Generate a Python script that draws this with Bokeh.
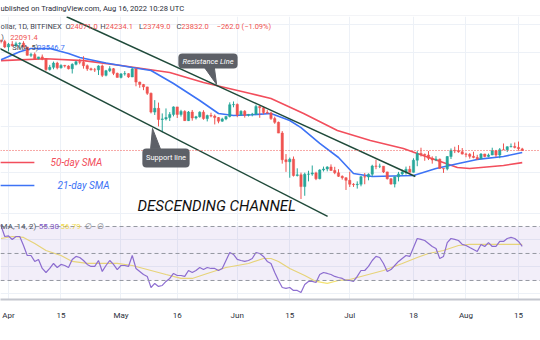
from bokeh.plotting import figure
from bokeh.layouts import column
from bokeh.models import Range1d, FixedTicker, Label, BoxAnnotation, Span, ColumnDataSource
from bokeh.embed import file_html
from bokeh.resources import INLINE

# ---------------- data (day 0 = 1 Apr 2022, first candle = 29 Mar 2022) ----------------
FIRST_DAY = -3

open_ = [47130, 47460, 47070,
         45530, 46300, 45860, 46440, 46600, 45520, 43190, 43450, 42290, 42780,
         42180, 39540, 40090, 41150, 39950, 40560, 40400, 39720, 40830, 41500,
         41370, 40490, 39710, 39470, 39450, 40430, 38120, 39240, 39740, 38600,
         37640, 38470, 38530, 37750, 39690, 36550, 36010, 35470, 34060, 30300,
         31020, 28940, 29030, 29280, 29860, 31300, 29860, 30420, 28720, 30310,
         29200, 29430, 30290, 29090, 29650, 29560, 29270, 28630, 29030, 29470, 31720,
         31790, 29800, 30450, 29700, 29860, 29900, 31370, 31130, 30200, 30110,
         29090, 28420, 26570, 22490, 22210, 22570, 20380, 20470, 19020, 20550,
         20570, 20720, 19980, 21100, 21230, 21500, 21030, 20730, 20280, 20100,
         19780, 19300, 19250, 19300, 20230, 20190, 20550, 21630, 21590, 21600,
         20850, 19970, 19320, 20210, 20580, 20830, 21190, 20790, 22430, 23390,
         23230, 23160, 22690, 22460, 22580, 21310, 21250, 22950, 23850, 23780, 23640,
         23300, 23270, 22980, 22820, 22620, 23310, 22960, 23170, 23810, 23160,
         23950, 23940, 24400, 24440, 24300, 24071.0]

high = [48190, 47700, 47600,
        46700, 47200, 47050, 46900, 47180, 45520, 43900, 43970, 42800, 43420,
        42420, 40700, 41550, 41500, 40850, 40700, 40600, 41100, 41750, 42200,
        42950, 40800, 39990, 39930, 40600, 40780, 39450, 40370, 39920, 38780,
        38660, 39150, 38630, 40000, 39790, 36650, 36130, 35500, 34250, 32650,
        32150, 30050, 31000, 30300, 31400, 31300, 30730, 30650, 30500, 30700,
        29600, 30450, 30650, 29820, 30180, 29850, 29380, 29250, 29550, 32200, 32380,
        31970, 30650, 30680, 29950, 30150, 31750, 31550, 31330, 30670, 30350,
        29450, 28550, 26900, 23300, 22800, 22950, 21320, 20760, 20750, 21000,
        21700, 20870, 21200, 21550, 21600, 21850, 21520, 21200, 20400, 20150,
        20870, 19430, 19650, 20330, 20700, 20650, 21800, 22500, 21950, 21600,
        20870, 20050, 20250, 20850, 21150, 21550, 21650, 22700, 23750, 24250,
        23400, 23750, 22980, 23000, 22650, 21320, 23000, 24150, 24400, 24650, 24200,
        23500, 23450, 23650, 23200, 23450, 23350, 23380, 24250, 23920, 24200,
        24900, 24450, 24900, 25050, 25200, 24234.1]

low = [46950, 46550, 45200,
       44250, 45650, 45560, 45150, 45400, 43130, 42730, 42130, 42130, 41900,
       39200, 39270, 39600, 39570, 39780, 40030, 39560, 38560, 40570, 40850,
       39760, 39200, 39300, 38930, 38200, 37720, 37880, 38900, 38180, 37620,
       37400, 38050, 37520, 37700, 35600, 35270, 34750, 33730, 30050, 29760,
       27700, 26700, 28760, 28650, 29500, 29200, 29460, 28670, 28650, 28720,
       28930, 29260, 28880, 28580, 29330, 28050, 28250, 28520, 28800, 29300, 31220,
       29350, 29600, 29270, 29480, 29500, 29870, 29240, 29880, 29960, 28860,
       28150, 26570, 21950, 20850, 20100, 20250, 20260, 17600, 17960, 19650,
       20350, 19800, 19900, 20900, 20920, 21000, 20550, 20200, 19860, 18620,
       18970, 18980, 18780, 19050, 19300, 19780, 20250, 21200, 21350, 20700,
       19880, 19250, 18920, 19650, 20400, 20500, 20790, 20760, 21600, 22950,
       22350, 22450, 21950, 22300, 21300, 20720, 21050, 22600, 23450, 23500, 23250,
       22850, 22650, 22700, 22450, 22600, 22850, 22850, 23150, 22880, 22700,
       23900, 23600, 24300, 24150, 23800, 23749.0]

close_ = [47460, 47070, 45530,
          46300, 45860, 46440, 46600, 45520, 43190, 43450, 42290, 42780, 42180,
          39540, 40090, 41150, 39950, 40560, 40400, 39720, 40830, 41500, 41370,
          40490, 39710, 39470, 39450, 40430, 38120, 39240, 39740, 38600, 37640,
          38470, 38530, 37750, 39690, 36550, 36010, 35470, 34060, 30300, 31020,
          28940, 29030, 29280, 29860, 31300, 29860, 30420, 28720, 30310, 29200,
          29430, 30290, 29090, 29650, 29560, 29270, 28630, 29030, 29470, 31720, 31790,
          29800, 30450, 29700, 29860, 29900, 31370, 31130, 30200, 30110, 29090,
          28420, 26570, 22490, 22210, 22570, 20380, 20470, 19020, 20550, 20570,
          20720, 19980, 21100, 21230, 21500, 21030, 20730, 20280, 20100, 19780,
          19300, 19250, 19300, 20230, 20190, 20550, 21630, 21590, 21600, 20850,
          19970, 19320, 20210, 20580, 20830, 21190, 20790, 22430, 23390, 23230,
          23160, 22690, 22460, 22580, 21310, 21250, 22950, 23850, 23780, 23640, 23300,
          23270, 22980, 22820, 22620, 23310, 22960, 23170, 23810, 23160, 23950,
          23940, 24400, 24440, 24300, 24100, 23832.0]

rsi = [72.0, 70.7, 62.6,
       63.0, 60.4, 62.6, 62.6, 55.9, 48.5, 48.5, 44.1, 45.6, 38.9,
       35.9, 38.9, 42.6, 39.6, 41.9, 41.1, 39.6, 45.6, 47.8, 47.0,
       44.8, 41.9, 40.4, 40.4, 44.8, 36.7, 41.1, 44.8, 41.9, 38.1,
       41.1, 41.1, 40.4, 48.5, 38.9, 36.7, 34.4, 33.0, 24.8, 27.8,
       25.6, 26.3, 29.3, 31.5, 35.2, 33.7, 33.7, 33.0, 37.4, 35.9,
       37.4, 39.6, 38.1, 39.6, 38.9, 38.9, 37.4, 38.9, 44.8, 50.7, 49.3,
       45.6, 44.8, 44.1, 44.8, 46.3, 50.7, 50.0, 47.8, 44.1, 42.6,
       35.9, 30.0, 24.8, 24.1, 24.8, 22.6, 22.6, 21.1, 27.0, 29.3,
       29.3, 28.5, 34.4, 35.9, 35.2, 34.4, 33.0, 32.2, 31.5, 30.0,
       30.0, 29.3, 33.0, 37.4, 37.4, 40.4, 44.8, 47.8, 47.0, 42.6,
       36.7, 38.1, 41.1, 44.1, 46.3, 48.5, 47.8, 54.4, 61.1, 60.4,
       59.6, 57.4, 55.2, 53.7, 46.3, 47.8, 58.1, 61.1, 60.4, 59.6, 56.7,
       55.9, 54.4, 53.0, 51.5, 56.7, 55.2, 58.1, 55.2, 55.2, 58.9,
       58.9, 61.1, 61.9, 61.1, 58.9, 55.3]

rsi_ma_days = [-2, 1, 4, 7, 10, 14, 17, 21, 29, 33, 38, 42, 46, 49, 53, 58, 64, 68, 70, 72,
               75, 79, 82, 85, 88, 91, 95, 100, 105, 109, 112, 116, 120, 123, 128, 132, 137]
rsi_ma = [61.1, 62.6, 61.9, 57.4, 52.2, 48.5, 44.1, 42.6, 42.6, 41.1, 37.4, 34.4, 31.5, 31.5,
          35.2, 39.6, 42.6, 46.3, 46.3, 44.1, 38.9, 33.7, 29.3, 27.8, 30.0, 30.7, 33.7, 37.4,
          42.6, 47.0, 50.0, 52.2, 55.9, 56.7, 56.7, 56.7, 56.79]

sma21_days = [-2, 3, 6, 11, 16, 19, 26, 33, 38, 44, 51, 56, 60, 65, 70, 75, 78, 83, 88, 92,
              97, 108, 114, 120, 125, 132, 137]
sma21 = [42000, 44200, 45100, 45100, 43700, 42600, 41200, 40030, 39290, 36220, 32580, 30030,
         29660, 29800, 30030, 28750, 27500, 24900, 22810, 20640, 20250, 20380, 21300, 21980,
         22540, 22960, 23546.7]

sma50_days = [-2, 10, 20, 30, 43, 52, 64.5, 70, 78.7, 87.7, 96.5, 105.3, 109, 114.4, 119.7,
              123, 132, 137]
sma50 = [41800, 42300, 41800, 40540, 38800, 36460, 34040, 32980, 30030, 27000, 25370, 24130,
         23390, 22390, 21430, 21300, 21700, 22091.4]

tick_days = [0, 14, 30, 45, 61, 75, 91, 108, 122, 136]
tick_labels = ["Apr", "15", "May", "16", "Jun", "15", "Jul", "18", "Aug", "15"]

# drawings (date index, price)
resistance_days = [15.5, 108.5]
resistance_prices = [55000, 20260]
support_days = [-4, 85.1]
support_prices = [45990, 15780]

res_box = dict(left=45.3, right=61.1, bottom=39790, top=43700)
res_tail_days = [52.3, 54.9, 55.5]
res_tail_prices = [40000, 40000, 36000]
sup_box = dict(left=35.7, right=48.3, bottom=21430, top=24130)
sup_tail_days = [37.9, 40.5, 38.4]
sup_tail_prices = [24100, 24100, 27350]

key50_days = [-2.2, 6.9]
key50_price = 22110
key21_days = [-2.2, 6.9]
key21_price = 19150

# ---------------- style ----------------
UP = "#26a69a"
DOWN = "#ef5350"
GRID = "#edf1f7"
FONT = "Roboto"
TXT = "#2a2e39"


def lab(fig, x, y, text, color, size="7.5px"):
    fig.add_layout(Label(x=x, y=y, text=text, text_color=color, text_font=FONT,
                         text_font_size=size, text_baseline="middle"))


# ---------------- header strip ----------------
h = figure(width=540, height=16, x_range=Range1d(0, 540), y_range=Range1d(0, 16),
           toolbar_location=None, output_backend="svg",
           min_border_top=0, min_border_left=0, min_border_right=0, min_border_bottom=0)
h.xaxis.visible = False
h.yaxis.visible = False
h.grid.visible = False
h.outline_line_color = None
h.add_layout(Span(location=0.5, dimension="width", line_color="#e6e9ef", line_width=1))
lab(h, 0, 8.5, "ublished on TradingView.com, Aug 16, 2022 10:28 UTC", TXT, "7.6px")

# ---------------- price panel ----------------
x_range = Range1d(-2.133, 141.87)

p = figure(width=540, height=205, x_range=x_range, y_range=Range1d(15290, 55070),
           y_axis_type="log", toolbar_location=None, output_backend="svg",
           min_border_top=0, min_border_left=0, min_border_right=0, min_border_bottom=0)
p.xaxis.visible = False
p.yaxis.visible = False
p.outline_line_color = None
p.background_fill_color = "white"
p.border_fill_color = "white"
p.xgrid.ticker = FixedTicker(ticks=tick_days)
p.xgrid.grid_line_color = GRID
p.ygrid.ticker = FixedTicker(ticks=[16075, 20770, 27690, 36010, 43980, 52420])
p.ygrid.grid_line_color = GRID

days = list(range(FIRST_DAY, FIRST_DAY + len(close_)))
src = ColumnDataSource(dict(
    x=days, o=open_, h=high, l=low, c=close_,
    top=[max(a, b) for a, b in zip(open_, close_)],
    bottom=[min(a, b) for a, b in zip(open_, close_)],
    color=[UP if c >= o else DOWN for o, c in zip(open_, close_)],
))

p.add_layout(Span(location=close_[-1], dimension="width", line_color=DOWN,
                  line_dash="1 2", line_width=1))

p.line(sma50_days, sma50, line_color="#f24e5c", line_width=1.6)
p.line(sma21_days, sma21, line_color="#3d73f5", line_width=1.6)

p.segment("x", "l", "x", "h", source=src, line_color="color", line_width=1)
p.vbar(x="x", width=0.62, top="top", bottom="bottom", source=src,
       fill_color="color", line_color="color", line_width=0.5)

p.line(resistance_days, resistance_prices, line_color="#1f4a3a", line_width=1.5)
p.line(support_days, support_prices, line_color="#1f4a3a", line_width=1.5)

# callouts
BOXC = "#5d6067"
p.add_layout(BoxAnnotation(fill_color=BOXC, fill_alpha=1, line_color=None, border_radius=4,
                           **res_box))
p.patch(res_tail_days, res_tail_prices, fill_color=BOXC, line_color=BOXC)
p.add_layout(BoxAnnotation(fill_color=BOXC, fill_alpha=1, line_color=None, border_radius=4,
                           **sup_box))
p.patch(sup_tail_days, sup_tail_prices, fill_color=BOXC, line_color=BOXC)
p.add_layout(Label(x=53.2, y=41675, text="Resistance Line", text_color="white",
                   text_font=FONT, text_font_size="7.5px", text_font_style="italic",
                   text_align="center", text_baseline="middle"))
p.add_layout(Label(x=42.0, y=22740, text="Support line", text_color="white",
                   text_font=FONT, text_font_size="7.5px",
                   text_align="center", text_baseline="middle"))

# SMA keys
p.line(key50_days, [key50_price] * 2, line_color="#f24e5c", line_width=1.6)
p.line(key21_days, [key21_price] * 2, line_color="#3d73f5", line_width=1.6)
p.add_layout(Label(x=11.2, y=key50_price, text="50-day SMA", text_color="#f24e5c",
                   text_font=FONT, text_font_size="10px", text_font_style="italic",
                   text_baseline="middle"))
p.add_layout(Label(x=13.1, y=key21_price, text="21-day SMA", text_color="#3d73f5",
                   text_font=FONT, text_font_size="10px", text_font_style="italic",
                   text_baseline="middle"))
p.add_layout(Label(x=34.4, y=16890, text="DESCENDING CHANNEL", text_color="#111111",
                   text_font=FONT, text_font_size="15px", text_font_style="italic",
                   text_baseline="middle"))

# legends
R1 = 51730
lab(p, -2.1, R1, "ollar, 1D, BITFINEX", "#434651")
for letter, lx, val, vx in [("O", 15.2, "24071.0", 16.5), ("H", 24.5, "24234.1", 25.9),
                            ("L", 34.8, "23749.0", 35.9), ("C", 44.8, "23832.0", 46.1)]:
    lab(p, lx, R1, letter, "#434651")
    lab(p, vx, R1, val, DOWN)
lab(p, 55.5, R1, "\u2212262.0 (\u22121.09%)", DOWN)
lab(p, -1.9, 48290, ")", "#434651")
lab(p, 0.5, 48290, "22091.4", DOWN)
lab(p, 1.0, 45360, "SMA, 5)", "#434651")
lab(p, 7.7, 45360, "23546.7", "#3d73f5")

# ---------------- RSI panel ----------------
q = figure(width=540, height=119, x_range=x_range, y_range=Range1d(15.9, 73.7),
           toolbar_location=None, output_backend="svg",
           min_border_top=0, min_border_left=0, min_border_right=0, min_border_bottom=41)
q.outline_line_color = None
q.yaxis.visible = False
q.xaxis.ticker = FixedTicker(ticks=tick_days)
q.xaxis.major_label_overrides = {d: t for d, t in zip(tick_days, tick_labels)}
q.xaxis.major_tick_line_color = None
q.xaxis.minor_tick_line_color = None
q.xaxis.axis_line_color = "#c3c6ce"
q.xaxis.axis_line_width = 2
q.xaxis.major_label_standoff = 5
q.xaxis.major_label_text_font = FONT
q.xaxis.major_label_text_font_size = "8px"
q.xaxis.major_label_text_color = TXT
q.xgrid.ticker = FixedTicker(ticks=tick_days)
q.xgrid.grid_line_color = GRID
q.ygrid.ticker = FixedTicker(ticks=[20, 40, 60])
q.ygrid.grid_line_color = GRID

q.add_layout(BoxAnnotation(bottom=30, top=70, fill_color="#7e57c2", fill_alpha=0.1,
                           line_color=None))
for lvl in (70, 50, 30):
    q.add_layout(Span(location=lvl, dimension="width", line_color="#9598a1",
                      line_dash="4 3", line_width=1))
q.line(rsi_ma_days, rsi_ma, line_color="#f3e271", line_width=1.2)
q.line(days, rsi, line_color="#8e6fd1", line_width=1.2)

lab(q, -2.1, 70, "MA, 14, 2)", "#4c525e", "8px")
lab(q, 8.1, 70, "55.30", "#7e57c2", "8px")
lab(q, 13.9, 70, "56.79", "#f0d84a", "8px")
lab(q, 20.5, 70, "\u2205", "#787b86", "8px")
lab(q, 23.7, 70, "\u2205", "#787b86", "8px")

layout = column(h, p, q, spacing=0)
open("out.html", "w").write(file_html(layout, INLINE))
